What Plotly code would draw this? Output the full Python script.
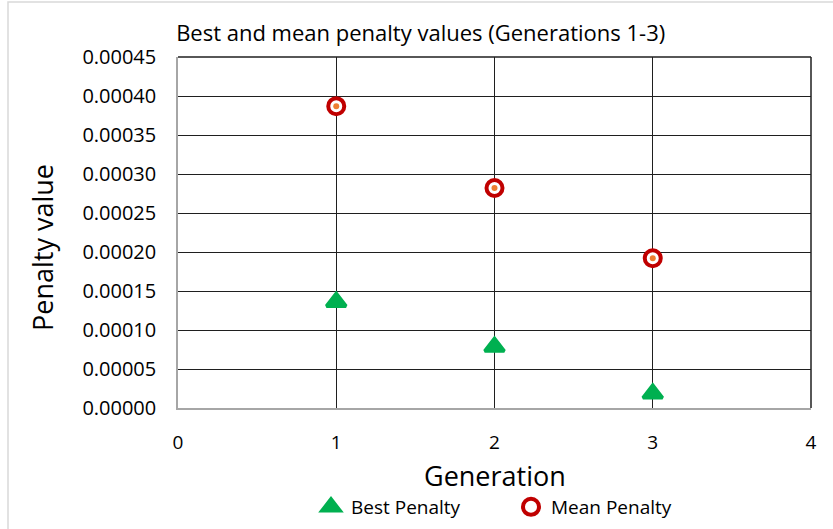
import plotly.graph_objects as go

generations = [1, 2, 3]
best_penalty = [0.000136, 0.0000785, 0.0000185]
mean_penalty = [0.000387, 0.000282, 0.000192]
y_ticks = [0, 0.00005, 0.0001, 0.00015, 0.0002, 0.00025, 0.0003, 0.00035, 0.0004, 0.00045]
y_tick_labels = ["%.5f" % v for v in y_ticks]
x_ticks = [0, 1, 2, 3, 4]

FONT = "Open Sans"
GRID = "#1f1f1f"
AXIS = "#a6a6a6"

fig = go.Figure()
fig.add_trace(go.Scatter(
    x=generations, y=best_penalty, mode="markers", name="Best Penalty",
    marker=dict(symbol="triangle-up", size=17, color="#00B050",
                line=dict(color="#00B050", width=3.5)),
))
fig.add_trace(go.Scatter(
    x=generations, y=mean_penalty, mode="markers", name="Mean Penalty",
    marker=dict(symbol="circle", size=16, color="white",
                line=dict(color="#C00000", width=4)),
))
fig.add_trace(go.Scatter(
    x=generations, y=mean_penalty, mode="markers", showlegend=False,
    marker=dict(symbol="circle", size=6, color="#ED7D31"),
    hoverinfo="skip",
))

fig.update_layout(
    width=833, height=529,
    margin=dict(l=178, r=22, t=57, b=121),
    paper_bgcolor="white", plot_bgcolor="white",
    font=dict(family=FONT, color="black"),
    title=dict(text="Best and mean penalty values (Generations 1-3)",
               x=0.505, xref="container", xanchor="center",
               y=1 - 33 / 529, yref="container", yanchor="middle",
               font=dict(size=22, family=FONT)),
    xaxis=dict(range=[0, 4], tickvals=x_ticks, showgrid=True, gridcolor=GRID,
               gridwidth=1, zeroline=False, showline=True, linecolor=AXIS, linewidth=1.5,
               ticks="", ticklabelstandoff=16, automargin=False,
               tickfont=dict(size=19)),
    yaxis=dict(range=[0, 0.00045], tickvals=y_ticks, ticktext=y_tick_labels,
               showgrid=True, gridcolor=GRID, gridwidth=1, zeroline=False, automargin=False,
               showline=True, linecolor=AXIS, linewidth=1.5, ticks="", ticklabelstandoff=16,
               tickfont=dict(size=20)),
    annotations=[
        dict(text="Penalty value", textangle=-90, showarrow=False,
             xref="paper", yref="paper", x=(42 - 178) / 633, y=(408 - 248) / 351,
             xanchor="center", yanchor="middle", font=dict(size=27)),
        dict(text="Generation", showarrow=False,
             xref="paper", yref="paper", x=(495 - 178) / 633, y=(408 - 475) / 351,
             xanchor="center", yanchor="middle", font=dict(size=27)),
    ],
    legend=dict(orientation="h", x=(333 - 22) / 833, xanchor="left", xref="container",
                y=1 - 507 / 529, yref="container", yanchor="middle",
                entrywidth=155, entrywidthmode="pixels",
                font=dict(size=19), itemsizing="trace"),
    shapes=[
        dict(type="line", xref="paper", yref="paper", x0=0, x1=1, y0=1, y1=1,
             line=dict(color=GRID, width=1.5)),
        dict(type="line", xref="paper", yref="paper", x0=1, x1=1, y0=0, y1=1,
             line=dict(color=GRID, width=1.5)),
        dict(type="rect", xref="paper", yref="paper",
             x0=(8 - 178) / 633, x1=1.2, y0=-0.5, y1=(408 - 2) / 351,
             line=dict(color="#D9D9D9", width=1.5), layer="below"),
    ],
)
fig.write_html("out.html", config={"displayModeBar": False},
               post_script="document.body.style.margin='0';")
